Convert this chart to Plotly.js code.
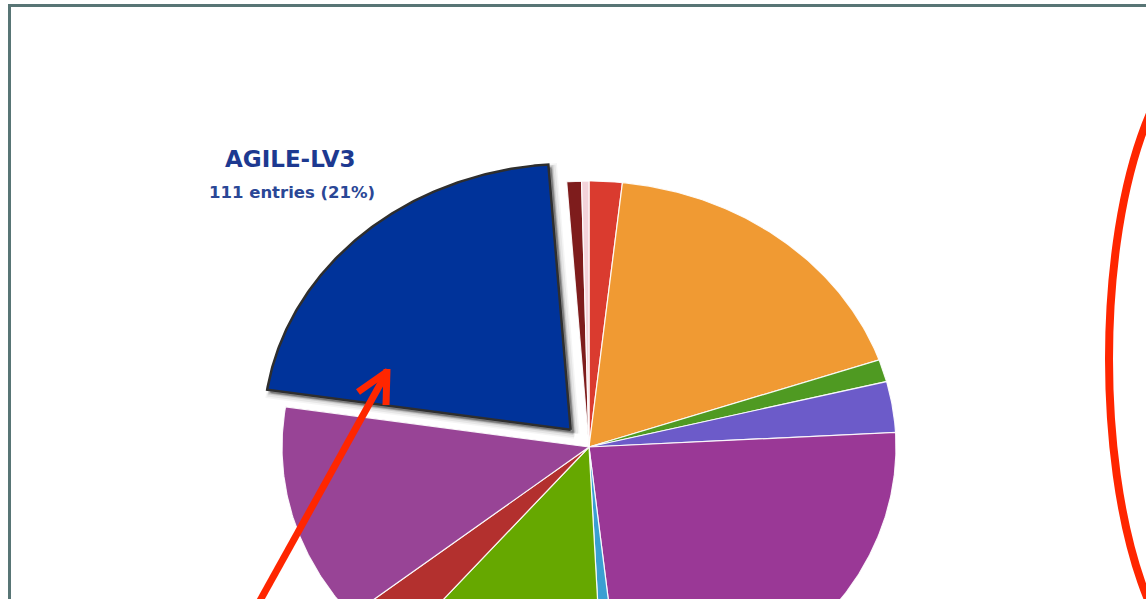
<!DOCTYPE html>
<html>
<head>
<meta charset="utf-8">
<script src="https://cdn.plot.ly/plotly-3.0.1.min.js"></script>
<style>
  html, body { margin: 0; padding: 0; background: #ffffff; }
  #chart { width: 1146px; height: 599px; }
</style>
</head>
<body>
<div id="chart"></div>
<script>
// ---- data, clockwise from 12 o'clock ----
const categories = [
  "Category 1", "Category 2", "Category 3", "Category 4", "Category 5", "Category 6",
  "Category 7", "Category 8", "Category 9", "AGILE-LV3", "Category 11", "Category 12"
];
const entries = [9, 93, 7, 16, 125, 5, 61, 16, 69, 111, 4, 2];
const sliceColors = [
  "#da3b2f", "#f09a33", "#4f9a22", "#6c5bc9", "#9a3896", "#3a9fd2",
  "#66a800", "#b3302e", "#984496", "#00339a", "#7e1c1c", "#f3d3da"
];
const pulledCategory = "AGILE-LV3";
const labelTitle = "AGILE-LV3";
const labelSub = "111 entries (21%)";

// ---- geometry of the (elliptical) pie in pixels ----
const W = 1146, H = 599;
const CX = 589, CY = 447, RX = 307, RY = 266;
const PULL = 0.088;

const total = entries.reduce((a, b) => a + b, 0);
const traces = [];
let start = 0;
const shadowTraces = [];
const blueTraces = [];

function slicePolygon(a0, a1, ox, oy) {
  const xs = [ox], ys = [oy];
  const n = Math.max(4, Math.ceil((a1 - a0) / 0.5));
  for (let i = 0; i <= n; i++) {
    const t = (a0 + (a1 - a0) * i / n) * Math.PI / 180;
    xs.push(ox + Math.sin(t));
    ys.push(oy + Math.cos(t));
  }
  xs.push(ox); ys.push(oy);
  return { xs, ys };
}

entries.forEach((v, i) => {
  const sweep = v / total * 360;
  const a0 = start, a1 = start + sweep;
  start = a1;
  const pct = Math.round(v / total * 100);
  const hover = categories[i] + "<br>" + v + " entries (" + pct + "%)";
  if (categories[i] === pulledCategory) {
    const mid = (a0 + a1) / 2 * Math.PI / 180;
    const ox = PULL * Math.sin(mid), oy = PULL * Math.cos(mid);
    const p = slicePolygon(a0, a1, ox, oy);
    // soft drop shadow (right / down), several layers to fake a blur
    [[4, 10, 0.04], [4, 7, 0.06], [3, 4.5, 0.10], [3, 2, 0.16]].forEach(([d, w, a]) => {
      shadowTraces.push({
        type: "scatter", mode: "lines", fill: "toself",
        x: p.xs.map(x => x + d / RX), y: p.ys.map(y => y - d / RY),
        fillcolor: "rgba(0,0,0," + a + ")", line: { width: w, color: "rgba(0,0,0," + a + ")" },
        hoverinfo: "skip", showlegend: false
      });
    });
    blueTraces.push({
      type: "scatter", mode: "lines", fill: "toself",
      x: p.xs, y: p.ys, fillcolor: sliceColors[i],
      line: { color: "#2e2e2e", width: 2.5 },
      text: hover, hoverinfo: "text", hoveron: "fills",
      name: categories[i], showlegend: false
    });
  } else {
    const p = slicePolygon(a0, a1, 0, 0);
    traces.push({
      type: "scatter", mode: "lines", fill: "toself",
      x: p.xs, y: p.ys, fillcolor: sliceColors[i],
      line: { color: "rgba(255,255,255,0.9)", width: 1.2 },
      text: hover, hoverinfo: "text", hoveron: "fills",
      name: categories[i], showlegend: false
    });
  }
});

const data = traces.concat(shadowTraces, blueTraces);

// pixel -> paper helpers for the overlay annotations
const PX = x => x / W;
const PY = y => 1 - y / H;

const red = "#ff2600";
const layout = {
  width: W, height: H,
  margin: { l: 0, r: 0, t: 0, b: 0 },
  paper_bgcolor: "#ffffff", plot_bgcolor: "#ffffff",
  showlegend: false,
  hovermode: "closest",
  xaxis: { range: [(0 - CX) / RX, (W - CX) / RX], visible: false, fixedrange: true },
  yaxis: { range: [(CY - H) / RY, CY / RY], visible: false, fixedrange: true },
  shapes: [
    // frame
    { type: "rect", xref: "paper", yref: "paper",
      x0: PX(9.5), x1: PX(W + 20), y0: PY(H + 20), y1: PY(5.5),
      line: { color: "#587575", width: 3 }, fillcolor: "rgba(0,0,0,0)", layer: "below" },
    // red hand-drawn ellipse on the right
    { type: "circle", xref: "paper", yref: "paper",
      x0: PX(1109), x1: PX(1109 + 220), y0: PY(359 + 315), y1: PY(359 - 315),
      line: { color: red, width: 8 } },
    // red arrow shaft
    { type: "line", xref: "paper", yref: "paper",
      x0: PX(252), y0: PY(615), x1: PX(387), y1: PY(372),
      line: { color: red, width: 7 } },
    // arrow head arms
    { type: "line", xref: "paper", yref: "paper",
      x0: PX(358), y0: PY(392), x1: PX(388), y1: PY(371),
      line: { color: red, width: 7 } },
    { type: "line", xref: "paper", yref: "paper",
      x0: PX(386), y0: PY(405), x1: PX(387), y1: PY(369),
      line: { color: red, width: 7 } }
  ],
  annotations: [
    { xref: "paper", yref: "paper", x: PX(290), y: PY(159), xanchor: "center", yanchor: "middle",
      text: labelTitle, showarrow: false,
      font: { family: "DejaVu Sans", size: 23, color: "#1d3990", weight: "bold" } },
    { xref: "paper", yref: "paper", x: PX(292), y: PY(192), xanchor: "center", yanchor: "middle",
      text: labelSub, showarrow: false,
      font: { family: "DejaVu Sans", size: 16.5, color: "#2a4796", weight: "bold" } }
  ]
};

Plotly.newPlot("chart", data, layout, { displayModeBar: false, staticPlot: false, responsive: false });
</script>
</body>
</html>
